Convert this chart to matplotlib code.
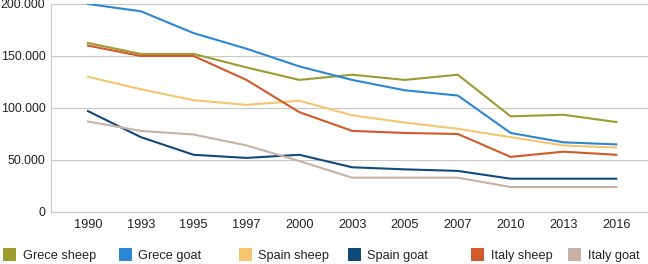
import matplotlib.pyplot as plt
from matplotlib.patches import Rectangle
from matplotlib.ticker import FuncFormatter

plt.rcParams['font.family'] = ['Liberation Sans', 'DejaVu Sans']

years = ['1990', '1993', '1995', '1997', '2000', '2003', '2005', '2007', '2010', '2013', '2016']

grece_sheep = [162500, 152000, 152000, 139000, 127000, 132000, 127000, 132000, 92000, 93500, 86500]
grece_goat = [200000, 193000, 172000, 157000, 140000, 127000, 117000, 112000, 76000, 67000, 65000]
spain_sheep = [130000, 118000, 107500, 103000, 107000, 93000, 86000, 80000, 72000, 64000, 62000]
spain_goat = [97000, 72000, 55000, 52000, 55000, 43000, 41000, 39500, 32000, 32000, 32000]
italy_sheep = [160000, 150000, 150000, 127000, 96000, 78000, 76000, 75000, 53000, 58000, 55000]
italy_goat = [87000, 78000, 74500, 64000, 49000, 33000, 33000, 33000, 24000, 24000, 24000]

labels = ['Grece sheep', 'Grece goat', 'Spain sheep', 'Spain goat', 'Italy sheep', 'Italy goat']
colors = ['#9b9b30', '#2b87d4', '#f4c56c', '#0f4a7a', '#d2592a', '#c6b1a4']
series = [grece_sheep, grece_goat, spain_sheep, spain_goat, italy_sheep, italy_goat]

W, H = 648, 264
fig = plt.figure(figsize=(W / 100, H / 100), dpi=100)
ax = fig.add_axes([51 / W, 1 - 212 / H, 1 - 51 / W, 208 / H])

x = range(len(years))
for vals, c in zip(series, colors):
    ax.plot(x, vals, color=c, lw=1.5)

ax.set_ylim(0, 200000)
ax.set_xlim(-0.7, 10.6)
ax.set_yticks([0, 50000, 100000, 150000, 200000])
ax.yaxis.set_major_formatter(FuncFormatter(lambda v, p: f'{int(v):,}'.replace(',', '.')))
ax.set_xticks(list(x))
ax.set_xticklabels(years)
ax.tick_params(length=0, colors='#222222')
ax.tick_params(axis='y', pad=4, labelsize=8.9)
ax.tick_params(axis='x', pad=5, labelsize=9.2)
ax.grid(axis='y', color='#c8c8c8', lw=0.8)
ax.set_axisbelow(True)
for s in ['top', 'right']:
    ax.spines[s].set_visible(False)
for s in ['left', 'bottom']:
    ax.spines[s].set_color('#c8c8c8')
    ax.spines[s].set_linewidth(0.8)

# legend drawn by hand to match the uneven spacing
box_x = [3, 119, 239, 348, 471, 568]
text_x = [23, 138, 258, 367, 491, 588]
for bx, tx, l, c in zip(box_x, text_x, labels, colors):
    fig.patches.append(Rectangle((bx / W, 1 - 261 / H), 13 / W, 13 / H,
                                 facecolor=c, edgecolor='none', transform=fig.transFigure))
    fig.text(tx / W, 1 - 258.5 / H, l, fontsize=9.2, color='#222222', va='baseline', ha='left')

fig.savefig('out.png', dpi=100)
